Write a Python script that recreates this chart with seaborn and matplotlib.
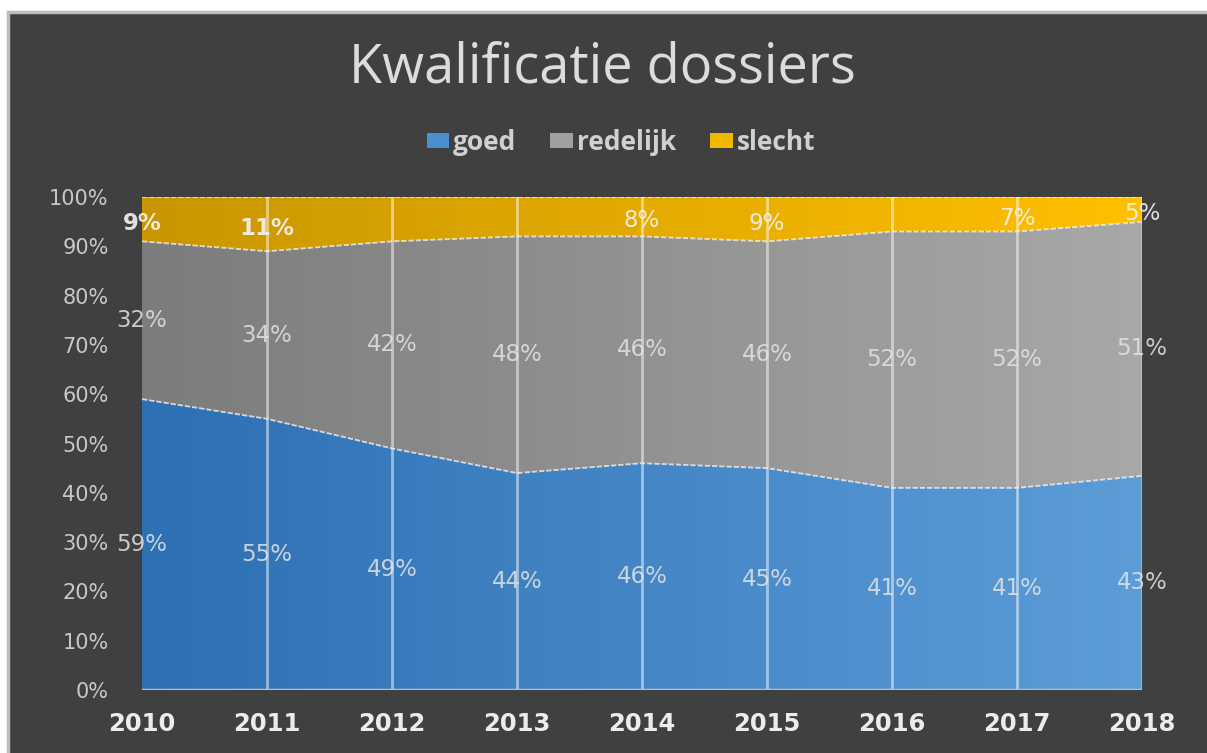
import numpy as np
import pandas as pd
import matplotlib
matplotlib.use("Agg")
import matplotlib.pyplot as plt
import seaborn as sns
from matplotlib.patches import Rectangle, Polygon, Patch
from matplotlib.colors import LinearSegmentedColormap

years = [2010, 2011, 2012, 2013, 2014, 2015, 2016, 2017, 2018]
goed = [59, 55, 49, 44, 46, 45, 41, 41, 43]
redelijk = [32, 34, 42, 48, 46, 46, 52, 52, 51]
slecht = [9, 11, 9, 8, 8, 9, 7, 7, 5]
slecht_shown = [True, True, False, False, True, True, False, True, True]
series_names = ["goed", "redelijk", "slecht"]
y_ticks = [0, 10, 20, 30, 40, 50, 60, 70, 80, 90, 100]

BG = "#404040"
grad = {
    "goed": ("#2d70b3", "#5c9dd8"),
    "redelijk": ("#7c7c7c", "#a8a8a8"),
    "slecht": ("#c89600", "#ffc000"),
}
solid = {"goed": "#4a8fd0", "redelijk": "#a0a0a0", "slecht": "#f2b800"}

sns.set_theme(style="dark", rc={"axes.facecolor": BG, "figure.facecolor": "white"})
plt.rcParams["font.family"] = ["DejaVu Sans"]

df = pd.DataFrame({"year": years, "goed": goed, "redelijk": redelijk, "slecht": slecht})
total = df[series_names].sum(axis=1)
frac = df[series_names].div(total, axis=0)
lower = frac.cumsum(axis=1) - frac
upper = frac.cumsum(axis=1)

fig = plt.figure(figsize=(12.07, 7.53), dpi=100)
# dark chart background with light frame
fig.patches.append(Rectangle((8 / 1207, -0.01), 1.02 - 8 / 1207, 1.01 - 12 / 753, transform=fig.transFigure,
                             facecolor=BG, edgecolor="#bdbdbd", linewidth=2.5, zorder=-10))

ax = fig.add_axes([142 / 1207, 63 / 753, 1000 / 1207, 493 / 753])
ax.set_zorder(2)
ax.set_facecolor(BG)

x = np.array(years, dtype=float)
for name in series_names:
    lo = lower[name].values
    hi = upper[name].values
    verts = list(zip(x, hi)) + list(zip(x[::-1], lo[::-1]))
    poly = Polygon(verts, closed=True, facecolor="none", edgecolor="none")
    ax.add_patch(poly)
    cmap = LinearSegmentedColormap.from_list(name, list(grad[name]))
    gimg = np.linspace(0, 1, 256).reshape(1, -1)
    im = ax.imshow(gimg, cmap=cmap, extent=[x[0], x[-1], 0, 1], aspect="auto",
                   origin="lower", zorder=1, interpolation="bilinear")
    im.set_clip_path(poly)

# boundary lines between layers
for name in series_names:
    sns.lineplot(x=x, y=upper[name].values, ax=ax, color="#f2f2f2", linewidth=1.3,
                 alpha=0.8, zorder=3, linestyle=(0, (3, 1)))

# vertical gridlines
for xv in years[1:-1]:
    ax.axvline(xv, color="#ffffff", alpha=0.5, linewidth=2, zorder=2)
ax.axvline(years[-1], color="#ffffff", alpha=0.3, linewidth=2, zorder=2)
ax.axhline(0, color="#bfbfbf", linewidth=2.5, zorder=4)

# data labels
lab_col = "#e3e3e3"
for i, yr in enumerate(years):
    ax.text(yr, lower["goed"][i] + frac["goed"][i] / 2, f"{goed[i]}%", ha="center", va="center",
            color=lab_col, fontsize=16.5, alpha=0.85, zorder=5)
    ax.text(yr, lower["redelijk"][i] + frac["redelijk"][i] / 2, f"{redelijk[i]}%", ha="center",
            va="center", color=lab_col, fontsize=16.5, alpha=0.85, zorder=5)
    if slecht_shown[i]:
        ax.text(yr, lower["slecht"][i] + frac["slecht"][i] / 2 - 0.008, f"{slecht[i]}%", ha="center",
                va="center", color="#f2f2f2", fontsize=16.5, alpha=0.9, zorder=5,
                fontweight="bold" if i < 2 else "normal")

ax.set_xlim(years[0], years[-1])
ax.set_ylim(0, 1)
ax.set_xticks(years)
ax.set_xticklabels([str(y) for y in years], fontsize=17.5, fontweight="bold", color="#ececec")
ax.set_yticks([t / 100 for t in y_ticks])
ax.set_yticklabels([f"{t}%" for t in y_ticks], fontsize=15, color="#c8c8c8")
ax.tick_params(axis="x", length=0, pad=16)
ax.tick_params(axis="y", length=0, pad=24)
ax.grid(False)
for s in ax.spines.values():
    s.set_visible(False)
ax.set_xlabel("")
ax.set_ylabel("")

fig.text(602 / 1207, 1 - 68 / 753, "Kwalificatie dossiers", ha="center", va="center",
         fontsize=39, color="#dcdcdc", family=["Open Sans", "DejaVu Sans"])

# legend
handles = [Patch(facecolor=solid[n], edgecolor="none") for n in series_names]
leg = fig.legend(handles, series_names, loc="center", bbox_to_anchor=(621 / 1207, 1 - 142 / 753),
                 ncol=3, frameon=False, handletextpad=0.15, columnspacing=1.3,
                 handlelength=0.85, handleheight=0.5,
                 prop={"family": ["Open Sans", "DejaVu Sans"], "size": 19, "weight": "bold"})
for t in leg.get_texts():
    t.set_color("#d0d0d0")

fig.savefig("out.png", dpi=100, facecolor="white")
